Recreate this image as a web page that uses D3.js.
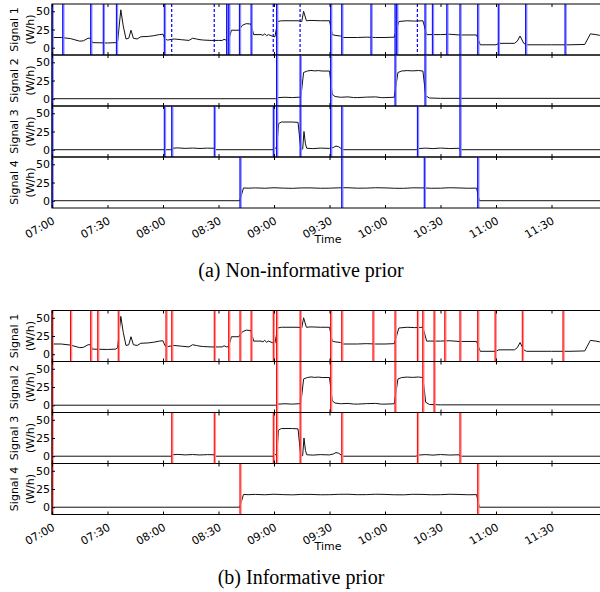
<!DOCTYPE html>
<html>
<head>
<meta charset="utf-8">
<script src="https://cdn.jsdelivr.net/npm/d3@7"></script>
<style>
  body { margin: 0; background: #fff; }
  svg { display: block; }
  .tick text { font-family: "DejaVu Sans", sans-serif; font-size: 11px; }
  .lbl { font-family: "DejaVu Sans", sans-serif; font-size: 11px; }
  .cap { font-family: "Liberation Serif", serif; font-size: 20px; }
</style>
</head>
<body>
<script>
// minutes after 07:00 and power (W/h)
var signal1 = [[0,14],[5,14],[10,12.5],[15,9],[17,9.5],[19.5,13],[21,13],[21.8,7],[30,6.5],[34.5,7],[35.5,9],
  [37.2,52],[38.5,30],[40,12],[41.5,13],[42.7,24],[44,13],[46,12],[48,15],[52,15.5],[55,16.5],[58,18],[60,18.5],
  [61,12],[62.5,10.5],[66,12],[70,11],[74,10],[76,13],[78,12],[80,11],[82,10.5],[86,10],[90,10],[92,10],[93,11.5],
  [94.5,10],[95.5,10.5],[97,24],[101,24],[103,31],[105,33],[107.5,32.5],[109,18],[113,18],[114,17],[115,19],
  [116,16.5],[117,18],[119,16],[120.5,15],[122,36],[124,37],[133,37],[135,36],[136,50],[137.5,37],[140,37.5],
  [145,37],[150,37],[151.5,18],[153,17],[156,16],[157,14],[165,14],[170,14.5],[175,14],[180,14],[185,14.5],
  [187.5,36],[192,37],[196,36.5],[200.5,37],[202.5,18],[210,18],[215,18.5],[220,17.5],[229.5,17.5],[231.5,4],
  [240,4],[241.5,6],[250,6],[251.5,9],[253,16],[255,6],[256.5,4],[270,4],[280,4],[288,4.5],[291,19],[294,18],
  [296,17],[300,16]];
var signal2 = [[0,0],[121,0],[122,1.5],[126,2],[130,1.5],[133,2],[134.5,2],[136,36],[138,38],[140,38.8],[142,38.2],
  [144,38.6],[146,38],[150,38],[151.5,6],[153,3],[156,2],[160,2.5],[163,1.6],[165,1.5],[170,2.2],[175,2.5],[178,1.5],
  [180,1.5],[185,2],[187,36],[189,38],[192,38.6],[195,38.2],[198,38.7],[200.5,38],[202,4],[204,1],[210,0.5],[300,0.5]];
var signal3 = [[0,0],[64.5,0],[65,2],[68,2.5],[72,1.8],[76,2.3],[80,1.7],[84,2.2],[87.5,2],[88,0],[120,0],[121.5,4],
  [122.5,36],[124,38],[130,38],[133,37.5],[134.5,0],[135.5,1],[136.2,25],[137,8],[137.7,2],[141,1.5],[145,2.2],
  [150,1.8],[152,3],[153.5,5],[155,4],[156.6,1],[157,0],[197,0],[197.5,1.5],[202,2.2],[206,1.5],[210,2.3],
  [215,1.6],[220,2],[220.5,0],[300,0]];
var signal4 = [[0,0],[101.5,0],[103.5,17.5],[106,17.2],[110,17.6],[115,17.1],[120,17.8],[125,17.3],[130,17],
  [135,17.6],[140,17.6],[145,17.1],[150,17.2],[155,17.7],[160,17.8],[165,17.2],[170,17.3],[175,17.8],[180,17.6],
  [185,17.1],[190,17],[195,17.7],[200,17.6],[205,17.1],[210,17.2],[215,17.8],[220,17.5],[225,17.1],[229.5,17.3],
  [231,0],[300,0]];
var signals = [signal1, signal2, signal3, signal4];
var signalNames = ["Signal 1", "Signal 2", "Signal 3", "Signal 4"];

// changepoints (minutes after 07:00), "d" = dashed
var cpNonInf = [
  [[0],[5.8],[20.9],[27.7],[34.8],[60.7],[64.7,"d"],[87.7,"d"],[94.4],[95.5],[101.3],[107.6],[119.6,"d"],[121.4],
   [134.1,"d"],[150.6],[156.6],[172.4],[185.4],[186.3],[197.5,"d"],[201.6],[205.6],[213.4],[220.5],[230.1],[241.2],[256],[277.3]],
  [[0],[121.4],[134.1],[150.6],[185.4],[201.6],[220.5]],
  [[0],[60.7],[64.7],[87.7],[119.6],[121.4],[134.1],[150.6],[156.6],[197.5],[220.5]],
  [[0],[101.6],[156.6],[201.2],[230.1]]
];
var cpInf = [
  [[0],[10],[20.9],[24.7],[35.8],[61.6],[64.7],[87.7],[95.5],[101.6],[107.6],[119.6],[121.4],[134.1],[150.6],[156.6],
   [173.5],[185.4],[197.5],[200.4],[206.5],[212.3],[220.5],[230.1],[239.5],[254.2],[276.2]],
  [[0],[121.4],[134.1],[150.6],[185.4],[200.4],[206.5]],
  [[0],[64.7],[87.7],[119.6],[121.4],[134.1],[156.6],[197.5],[220.5]],
  [[0],[101.6],[230.1]]
];
var yTicks = [0, 25, 50];
var xTickMinutes = [0, 30, 60, 90, 120, 150, 180, 210, 240, 270];
var captions = ["(a) Non-informative prior", "(b) Informative prior"];

var W = 600, H = 592;
var left = 52, panelH = 51;
var endMin = 297.5;
var plotW = 1.85 * endMin;

var svg = d3.select("body").append("svg")
    .attr("width", W)
    .attr("height", H);

var t0 = new Date(2000, 0, 1, 7, 0);
function toDate(m) { return new Date(t0.getTime() + m * 60000); }
var xTicks = xTickMinutes.map(toDate);

var x = d3.scaleTime()
    .domain([t0, toDate(endMin)])
    .range([0, plotW]);

function drawFigure(top, cps, color, light, caption) {
    var g = svg.append("g")
        .attr("transform", "translate(" + left + "," + top + ")");

    signals.forEach(function(sig, i) {
        var p = g.append("g")
            .attr("transform", "translate(0," + (i * panelH) + ")");
        var y = d3.scaleLinear().domain([-10, 60]).range([panelH, 0]);

        var line = d3.line()
            .x(function(d) { return x(toDate(d[0])); })
            .y(function(d) { return y(d[1]); });

        p.append("path")
            .datum(sig)
            .attr("fill", "none")
            .attr("stroke", "#111")
            .attr("stroke-width", 1)
            .attr("d", line);

        // changepoint lines
        cps[i].forEach(function(c) {
            var cx = x(toDate(c[0]));
            if (c[1] === "d") {
                p.append("line")
                    .attr("x1", cx).attr("x2", cx)
                    .attr("y1", 0).attr("y2", panelH)
                    .attr("stroke", color)
                    .attr("stroke-width", 1.2)
                    .attr("stroke-dasharray", "3,2");
            } else {
                p.append("line")
                    .attr("x1", cx + 0.8).attr("x2", cx + 0.8)
                    .attr("y1", 0).attr("y2", panelH)
                    .attr("stroke", light)
                    .attr("stroke-width", 2);
                p.append("line")
                    .attr("x1", cx).attr("x2", cx)
                    .attr("y1", 0).attr("y2", panelH)
                    .attr("stroke", color)
                    .attr("stroke-width", 1);
            }
        });

        // axes
        p.append("g")
            .call(d3.axisLeft(y).tickValues(yTicks).tickSizeInner(-3).tickSizeOuter(0).tickPadding(2))
            .call(function(a) { a.select(".domain").remove(); });
        p.append("g")
            .call(d3.axisTop(x).tickValues(xTicks).tickSizeInner(-3).tickSizeOuter(0).tickFormat(""))
            .call(function(a) { a.select(".domain").remove(); });
        var bx = p.append("g")
            .attr("transform", "translate(0," + panelH + ")")
            .call(d3.axisBottom(x).tickValues(xTicks).tickSizeInner(-3).tickSizeOuter(0)
                .tickFormat(i === 3 ? d3.timeFormat("%H:%M") : ""));
        bx.select(".domain").remove();
        if (i === 3) {
            bx.selectAll(".tick text")
                .attr("text-anchor", "end")
                .attr("dy", null)
                .attr("y", 0)
                .attr("transform", "translate(3,15) rotate(-30)");
        }

        p.append("rect")
            .attr("width", plotW).attr("height", panelH)
            .attr("fill", "none")
            .attr("stroke", "#000")
            .attr("stroke-width", 1);

        p.append("text")
            .attr("class", "lbl")
            .attr("text-anchor", "middle")
            .attr("transform", "translate(-34," + (panelH / 2) + ") rotate(-90)")
            .text(signalNames[i]);
        p.append("text")
            .attr("class", "lbl")
            .attr("text-anchor", "middle")
            .attr("transform", "translate(-18," + (panelH / 2) + ") rotate(-90)")
            .text("(W/h)");
    });

    g.append("text")
        .attr("class", "lbl")
        .attr("text-anchor", "middle")
        .attr("x", 276)
        .attr("y", 4 * panelH + 35)
        .text("Time");

    svg.append("text")
        .attr("class", "cap")
        .attr("text-anchor", "middle")
        .attr("x", 301)
        .attr("y", top + 4 * panelH + 69)
        .text(caption);
}

drawFigure(4, cpNonInf, "#0000ff", "#8c8cff", captions[0]);
drawFigure(310.5, cpInf, "#ff0000", "#ff9090", captions[1]);
</script>
</body>
</html>
